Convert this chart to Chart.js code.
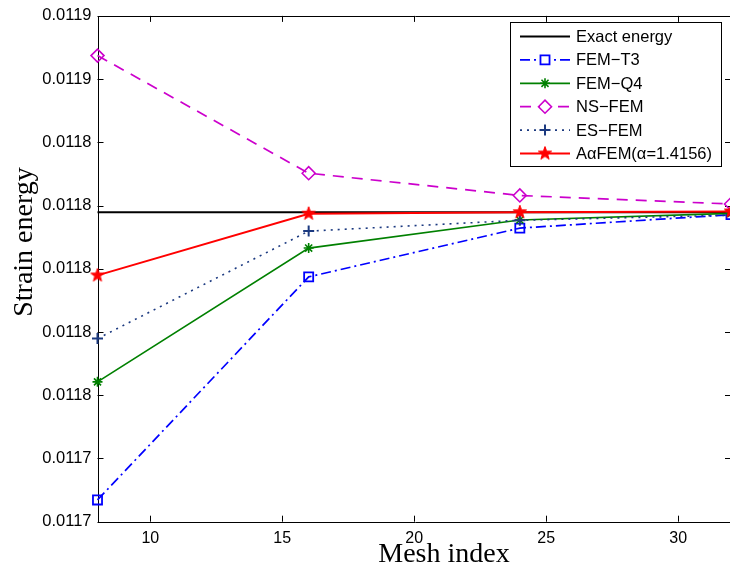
<!DOCTYPE html>
<html>
<head>
<meta charset="utf-8">
<script src="https://cdn.jsdelivr.net/npm/chart.js@4/dist/chart.umd.min.js"></script>
<style>
  html, body { margin: 0; padding: 0; background: #fff; overflow: hidden; }
  #wrap { width: 740px; height: 568px; }
</style>
</head>
<body>
<div id="wrap"><canvas id="c" width="740" height="568"></canvas></div>
<script>
// Strain energy convergence versus mesh index
const meshIndex   = [8, 16, 24, 32];
const exactEnergy = [0.0118224, 0.0118224, 0.0118224, 0.0118224];
const femT3       = [0.0117086, 0.0117968, 0.0118161, 0.0118214];
const femQ4       = [0.0117553, 0.0118082, 0.0118193, 0.0118219];
const nsFem       = [0.0118843, 0.0118378, 0.0118290, 0.0118256];
const esFem       = [0.0117724, 0.0118149, 0.0118192, 0.0118212];
const aAlphaFem   = [0.0117974, 0.0118218, 0.0118224, 0.0118227];

const seriesNames = ['Exact energy', 'FEM\u2212T3', 'FEM\u2212Q4', 'NS\u2212FEM', 'ES\u2212FEM', 'A\u03b1FEM(\u03b1=1.4156)'];

const xTickValues = [10, 15, 20, 25, 30];
const yTickValues = [0.0117, 0.011725, 0.01175, 0.011775, 0.0118, 0.011825, 0.01185, 0.011875, 0.0119];
const yTickLabels = ['0.0117', '0.0117', '0.0118', '0.0118', '0.0118', '0.0118', '0.0118', '0.0119', '0.0119'];

const toPoints = arr => meshIndex.map((x, i) => ({ x: x, y: arr[i] }));

// filled five-pointed star marker
function makeStar(r, color) {
  const size = Math.ceil(r * 2 + 4);
  const cv = document.createElement('canvas');
  cv.width = size; cv.height = size;
  const g = cv.getContext('2d');
  const c = size / 2, ri = r * 0.4;
  g.beginPath();
  for (let k = 0; k < 10; k++) {
    const rad = (k % 2 === 0) ? r : ri;
    const a = -Math.PI / 2 + k * Math.PI / 5;
    const px = c + rad * Math.cos(a), py = c + rad * Math.sin(a);
    if (k === 0) g.moveTo(px, py); else g.lineTo(px, py);
  }
  g.closePath();
  g.fillStyle = color; g.fill();
  g.strokeStyle = color; g.lineWidth = 1; g.stroke();
  return cv;
}
const redStar = makeStar(7, '#ff0000');

const COL = {
  exact: '#000000', t3: '#0000ff', q4: '#008000', ns: '#cc00cc', es: '#1c3a80', aa: '#ff0000'
};

const datasets = [
  { label: seriesNames[0], data: toPoints(exactEnergy), borderColor: COL.exact, borderWidth: 2,
    pointRadius: 0, order: 6 },
  { label: seriesNames[1], data: toPoints(femT3), borderColor: COL.t3, borderWidth: 1.7,
    borderDash: [10, 4, 2, 4], pointStyle: 'rect', pointRadius: 6.4, pointBorderWidth: 1.8,
    pointBorderColor: COL.t3, pointBackgroundColor: 'rgba(0,0,0,0)', order: 5 },
  { label: seriesNames[2], data: toPoints(femQ4), borderColor: COL.q4, borderWidth: 1.7,
    pointStyle: 'star', pointRadius: 5, pointBorderWidth: 1.6,
    pointBorderColor: COL.q4, pointBackgroundColor: COL.q4, order: 4 },
  { label: seriesNames[3], data: toPoints(nsFem), borderColor: COL.ns, borderWidth: 1.7,
    borderDash: [11, 8], pointStyle: 'rectRot', pointRadius: 6.5, pointBorderWidth: 1.6,
    pointBorderColor: COL.ns, pointBackgroundColor: 'rgba(0,0,0,0)', order: 3 },
  { label: seriesNames[4], data: toPoints(esFem), borderColor: COL.es, borderWidth: 1.6,
    borderDash: [2, 5], pointStyle: 'cross', pointRadius: 5.5, pointBorderWidth: 2,
    pointBorderColor: COL.es, pointBackgroundColor: COL.es, order: 2 },
  { label: seriesNames[5], data: toPoints(aAlphaFem), borderColor: COL.aa, borderWidth: 2,
    pointStyle: redStar, pointRadius: 7, order: 1 }
].map(d => Object.assign({ fill: false, tension: 0, clip: false }, d));

const CHART_RIGHT_PAD = 4;
const Y_AXIS_WIDTH = 97.5;
const X_AXIS_HEIGHT = 46.3;
const TOP_PAD = 13.5;
const TICK_LEN = 6;

// axes box with inward tick marks
const framePlugin = {
  id: 'frame',
  beforeDatasetsDraw(chart) {
    const { ctx, chartArea: a, scales } = chart;
    ctx.save();
    ctx.strokeStyle = '#000';
    ctx.lineWidth = 1;
    ctx.beginPath();
    ctx.rect(Math.round(a.left) + 0.5, Math.round(a.top) + 0.5,
             Math.round(a.right - a.left), Math.round(a.bottom - a.top));
    xTickValues.forEach(v => {
      const px = Math.round(scales.x.getPixelForValue(v)) + 0.5;
      ctx.moveTo(px, a.bottom); ctx.lineTo(px, a.bottom - TICK_LEN);
      ctx.moveTo(px, a.top); ctx.lineTo(px, a.top + TICK_LEN);
    });
    yTickValues.forEach(v => {
      const py = Math.round(scales.y.getPixelForValue(v)) + 0.5;
      ctx.moveTo(a.left, py); ctx.lineTo(a.left + TICK_LEN, py);
      ctx.moveTo(a.right, py); ctx.lineTo(a.right - TICK_LEN, py);
    });
    ctx.stroke();
    ctx.restore();
  }
};

// axis titles in a serif face
const titlePlugin = {
  id: 'titles',
  afterDraw(chart) {
    const ctx = chart.ctx;
    ctx.save();
    ctx.fillStyle = '#000';
    ctx.font = '28px "Liberation Serif"';
    ctx.textAlign = 'center';
    ctx.textBaseline = 'alphabetic';
    ctx.fillText('Mesh index', 444, 562);
    ctx.translate(32, 242);
    ctx.rotate(-Math.PI / 2);
    ctx.fillText('Strain energy', 0, 0);
    ctx.restore();
  }
};

function drawMarker(ctx, style, x, y, r) {
  if (style instanceof HTMLCanvasElement) {
    ctx.drawImage(style, x - style.width / 2, y - style.height / 2);
    return;
  }
  ctx.beginPath();
  if (style === 'rect') {
    const s = Math.SQRT1_2 * r;
    ctx.rect(x - s, y - s, 2 * s, 2 * s);
  } else if (style === 'rectRot') {
    ctx.moveTo(x - r, y); ctx.lineTo(x, y - r); ctx.lineTo(x + r, y); ctx.lineTo(x, y + r); ctx.closePath();
  } else if (style === 'cross') {
    ctx.moveTo(x - r, y); ctx.lineTo(x + r, y); ctx.moveTo(x, y - r); ctx.lineTo(x, y + r);
  } else if (style === 'star') {
    const d = Math.SQRT1_2 * r;
    ctx.moveTo(x - r, y); ctx.lineTo(x + r, y); ctx.moveTo(x, y - r); ctx.lineTo(x, y + r);
    ctx.moveTo(x - d, y - d); ctx.lineTo(x + d, y + d); ctx.moveTo(x - d, y + d); ctx.lineTo(x + d, y - d);
  }
  ctx.stroke();
}

// boxed legend with line samples and markers
const legendPlugin = {
  id: 'boxLegend',
  afterDraw(chart) {
    const ctx = chart.ctx;
    const box = { x: 510.5, y: 22.5, w: 211, h: 144 };
    const rowY0 = 36.5, rowStep = 23.4;
    ctx.save();
    ctx.fillStyle = '#fff';
    ctx.fillRect(box.x, box.y, box.w, box.h);
    ctx.strokeStyle = '#000';
    ctx.lineWidth = 1;
    ctx.strokeRect(box.x, box.y, box.w, box.h);
    ctx.font = '16.5px "Liberation Sans"';
    ctx.textBaseline = 'middle';
    ctx.textAlign = 'left';
    chart.data.datasets.forEach((ds, i) => {
      const y = rowY0 + i * rowStep;
      ctx.strokeStyle = ds.borderColor;
      ctx.lineWidth = ds.borderWidth;
      ctx.setLineDash(ds.borderDash || []);
      ctx.beginPath();
      ctx.moveTo(520, y); ctx.lineTo(570, y);
      ctx.stroke();
      ctx.setLineDash([]);
      if (ds.pointRadius > 0) {
        ctx.fillStyle = '#fff';
        ctx.strokeStyle = ds.pointBorderColor || ds.borderColor;
        ctx.lineWidth = ds.pointBorderWidth || 1;
        if (ds.pointStyle === 'rect' || ds.pointStyle === 'rectRot') {
          ctx.fillRect(540, y - 5, 10, 10);
        }
        drawMarker(ctx, ds.pointStyle, 545, y, ds.pointRadius);
      }
      ctx.fillStyle = '#000';
      ctx.fillText(ds.label, 576, y + 1);
    });
    ctx.restore();
  }
};

Chart.defaults.font.family = '"Liberation Sans", Arial, sans-serif';
Chart.defaults.font.size = 16;
Chart.defaults.color = '#000';

new Chart(document.getElementById('c'), {
  type: 'line',
  data: { datasets: datasets },
  options: {
    responsive: false,
    devicePixelRatio: 1,
    animation: false,
    layout: { padding: { left: 0, right: CHART_RIGHT_PAD, top: TOP_PAD, bottom: 0 } },
    plugins: { legend: { display: false }, tooltip: { enabled: false } },
    scales: {
      x: {
        type: 'linear', min: 8, max: 32,
        grid: { display: false, drawTicks: false }, border: { display: false },
        afterBuildTicks: s => { s.ticks = xTickValues.map(v => ({ value: v })); },
        afterFit: s => { s.height = X_AXIS_HEIGHT; },
        ticks: { padding: 7, maxRotation: 0, autoSkip: false, color: '#000', font: { size: 16 } }
      },
      y: {
        type: 'linear', min: 0.0117, max: 0.0119,
        grid: { display: false, drawTicks: false }, border: { display: false },
        afterBuildTicks: s => { s.ticks = yTickValues.map(v => ({ value: v })); },
        afterFit: s => { s.width = Y_AXIS_WIDTH; },
        ticks: { padding: 6, autoSkip: false, color: '#000', font: { size: 16.5 },
                 callback: (v, i) => yTickLabels[i] }
      }
    }
  },
  plugins: [framePlugin, titlePlugin, legendPlugin]
});
</script>
</body>
</html>
